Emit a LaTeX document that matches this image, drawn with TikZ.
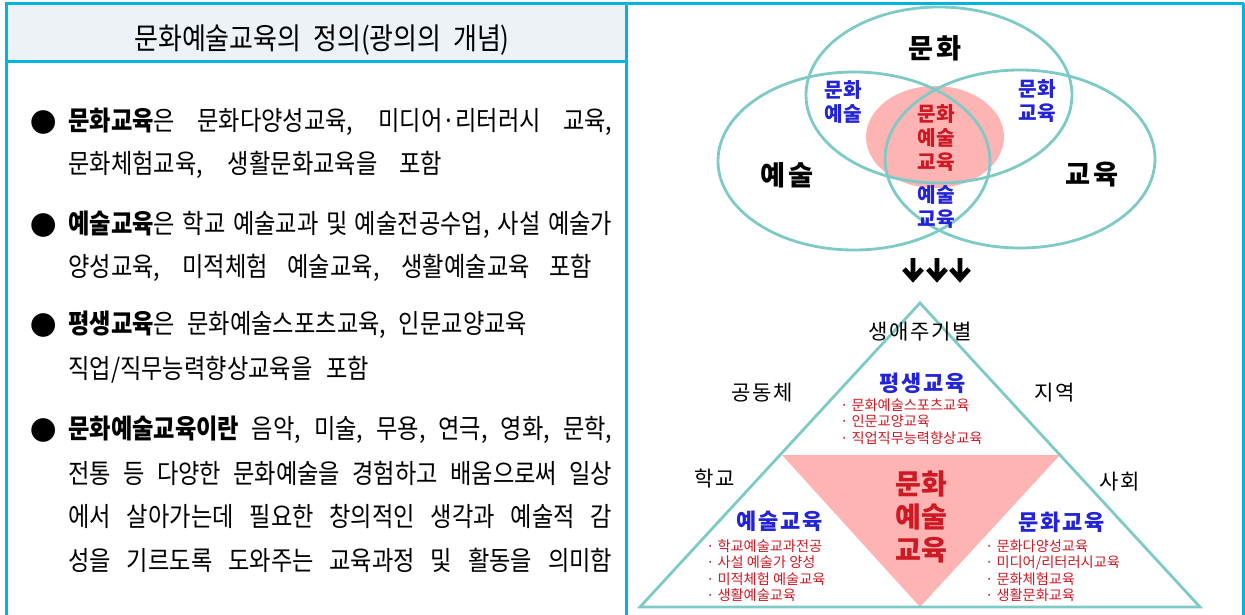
\documentclass[tikz,border=0pt]{standalone}
\usepackage{fontspec}
\setmainfont{Noto Sans CJK KR}
\newfontfamily\krwide[LetterSpace=8]{Noto Sans CJK KR}
\newfontfamily\krbody[FakeStretch=0.87, WordSpace=2]{Noto Sans CJK KR}
\definecolor{frameblue}{RGB}{0,180,220}
\definecolor{headfill}{RGB}{237,242,246}
\definecolor{venncol}{RGB}{125,202,198}
\definecolor{pinkfill}{RGB}{255,180,180}
\definecolor{lblblue}{RGB}{35,35,215}
\definecolor{lblred}{RGB}{205,25,35}
\newcommand\jline[2][10.88cm]{\makebox[#1][s]{#2}}
\tikzset{
	frame/.style={draw=frameblue, line width=1.9pt},
	venn/.style={draw=venncol, line width=1.6pt},
	body/.style={anchor=west, inner sep=0pt, font=\krbody\fontsize{15.2}{18}\selectfont},
	dotmark/.style={inner sep=0pt, font=\fontsize{15}{16}\selectfont},
	bigword/.style={inner sep=0pt, font=\krwide\bfseries\fontsize{15.5}{18}\selectfont},
	pairword/.style={align=center, inner sep=0pt, text=lblblue, font=\bfseries\fontsize{11.5}{13.6}\selectfont},
	triword/.style={inner sep=0pt, font=\krwide\fontsize{12}{14}\selectfont},
	triname/.style={inner sep=0pt, text=lblblue, font=\krwide\bfseries\fontsize{12.5}{14}\selectfont},
	smalllist/.style={anchor=north west, align=left, inner sep=0pt, text=lblred, font=\fontsize{8.1}{9.4}\selectfont},
	downarr/.style={line width=2.8pt, line join=miter}
}

\begin{document}
\begin{tikzpicture}[x=0.02cm, y=-0.02cm]
			%%%%% START %%%%%
			\useasboundingbox (0,0) rectangle (1245,615);
			
			% left panel
			\fill[headfill] (8,5) rectangle (625,60);
			\draw[frame] (6.5,615) |- (1243.5,3.5);
			\draw[frameblue, line width=1.2pt] (1243.5,3.5) -- (1243.5,615);
			\draw[frame] (626.5,3.5) -- (626.5,615);
			\draw[frame] (6.5,61.5) -- (626.5,61.5);
			\node[inner sep=0pt, font=\krbody\fontsize{17}{20}\selectfont] (head) at (322,40) {문화예술교육의 정의(광의의 개념)};
			
			\node[dotmark] (bulA) at (44,122) {●};
			\node[body] (culA) at (68,122) {\jline{\textbf{문화교육}은 문화다양성교육, 미디어·리터러시 교육,}};
			\node[body] (culB) at (68,165) {\jline[7.48cm]{문화체험교육, 생활문화교육을 포함}};
			
			\node[dotmark] (bulB) at (44,225) {●};
			\node[body] (artA) at (68,225) {\jline{\textbf{예술교육}은 학교 예술교과 및 예술전공수업, 사설 예술가}};
			\node[body] (artB) at (68,268) {\jline[10.48cm]{양성교육, 미적체험 예술교육, 생활예술교육 포함}};
			
			\node[dotmark] (bulC) at (44,325) {●};
			\node[body] (lifeA) at (68,325) {\jline[9.18cm]{\textbf{평생교육}은 문화예술스포츠교육, 인문교양교육}};
			\node[body] (lifeB) at (68,370) {\jline[6.02cm]{직업/직무능력향상교육을 포함}};
			
			\node[dotmark] (bulD) at (44,430) {●};
			\node[body] (defA) at (68,430) {\jline{\textbf{문화예술교육이란} 음악, 미술, 무용, 연극, 영화, 문학,}};
			\node[body] (defB) at (68,473) {\jline{전통 등 다양한 문화예술을 경험하고 배움으로써 일상}};
			\node[body] (defC) at (68,516) {\jline{에서 살아가는데 필요한 창의적인 생각과 예술적 감}};
			\node[body] (defD) at (68,560) {\jline{성을 기르도록 도와주는 교육과정 및 활동을 의미함}};
			
			% venn
			\fill[pinkfill] (935,137) ellipse [x radius=69, y radius=51];
			\draw[venn] (939,95) ellipse [x radius=133, y radius=88];
			\draw[venn] (854,161) ellipse [x radius=136, y radius=89];
			\draw[venn] (1020,159) ellipse [x radius=135, y radius=89];
			
			\node[bigword] (culture) at (935,48) {문화};
			\node[bigword] (arts) at (787,175) {예술};
			\node[bigword] (edu) at (1092,175) {교육};
			\node[pairword] (cularts) at (843,102) {문화\\예술};
			\node[pairword] (culedu) at (1037,101) {문화\\교육};
			\node[pairword] (artsedu) at (936,207) {예술\\교육};
			\node[pairword, text=lblred, font=\bfseries\fontsize{11.5}{13.9}\selectfont] (core) at (936,138) {문화\\예술\\교육};
			
			\foreach \ax in {913,937,960}
				\draw[downarr] (\ax,258) -- (\ax,279) (\ax-9,269) -- (\ax,279) -- (\ax+9,269);
			
			% triangle
			\fill[pinkfill] (782,455) -- (1060,455) -- (920,607) -- cycle;
			\draw[venn, line join=miter] (920,303) -- (1200,607) -- (640,607) -- cycle;
			
			\node[triword] (cycle) at (920,332) {생애주기별};
			\node[triword] (commu) at (762,393) {공동체};
			\node[triword] (region) at (1055,393) {지역};
			\node[triword] (school) at (715,479) {학교};
			\node[triword] (society) at (1120,482) {사회};
			
			\node[triname] (life) at (923,383) {평생교육};
			\node[smalllist] (lifelist) at (840,398) {· 문화예술스포츠교육\\· 인문교양교육\\· 직업직무능력향상교육};
			\node[triname] (artedu) at (780,521) {예술교육};
			\node[smalllist] (artlist) at (706,539) {· 학교예술교과전공\\· 사설 예술가 양성\\· 미적체험 예술교육\\· 생활예술교육};
			\node[triname] (culedu2) at (1062,522) {문화교육};
			\node[smalllist] (cullist) at (985,539) {· 문화다양성교육\\· 미디어/리터러시교육\\· 문화체험교육\\· 생활문화교육};
			
			\node[align=center, inner sep=0pt, text=lblred, font=\bfseries\fontsize{16}{19}\selectfont] (mainword) at (921,517) {문화\\예술\\교육};
			
			%%%%% END %%%%%
\end{tikzpicture}
\end{document}
